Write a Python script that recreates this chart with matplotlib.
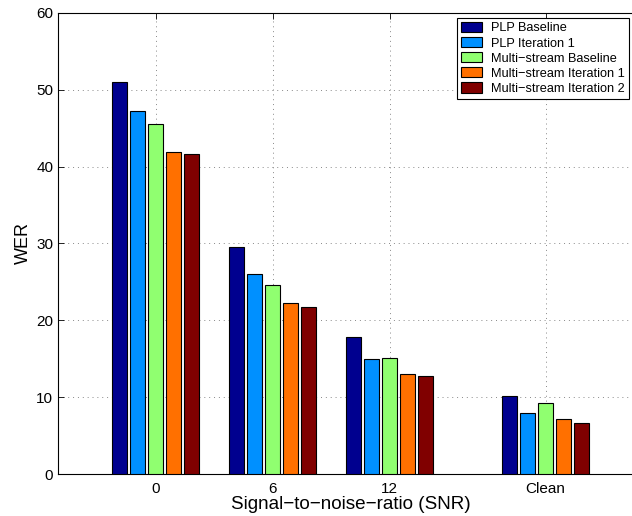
import matplotlib
matplotlib.use("Agg")
import matplotlib.pyplot as plt
import numpy as np

plt.rcParams['font.family'] = ['Liberation Sans', 'DejaVu Sans']

snr_positions = [0, 6, 12, 20]
tick_labels = ["0", "6", "12", "Clean"]
series_names = ["PLP Baseline", "PLP Iteration 1", "Multi\u2212stream Baseline",
                "Multi\u2212stream Iteration 1", "Multi\u2212stream Iteration 2"]
plp_baseline = [51.0, 29.6, 17.8, 10.1]
plp_iter1 = [47.2, 26.0, 15.0, 7.9]
ms_baseline = [45.5, 24.6, 15.1, 9.2]
ms_iter1 = [41.9, 22.2, 13.0, 7.2]
ms_iter2 = [41.7, 21.8, 12.7, 6.6]
colors = ["#00008F", "#0090FF", "#90FF70", "#FF7000", "#800000"]

series = [plp_baseline, plp_iter1, ms_baseline, ms_iter1, ms_iter2]

fig = plt.figure(figsize=(6.32, 5.16), dpi=100)
ax = fig.add_axes([58/632, 42/516, 585/632, 461/516])

x = np.array(snr_positions, dtype=float)
n = len(series)
slot = (n / (n + 1.5)) * 6 / n
width = 0.8 * slot
handles = []
for i, (vals, c, name) in enumerate(zip(series, colors, series_names)):
    h = ax.bar(x + (i - (n - 1) / 2) * slot, vals, width=width, color=c,
               edgecolor='black', linewidth=0.8, label=name, zorder=3)
    handles.append(h)

ax.set_xlim(-5, 25)
ax.set_ylim(0, 60)
ax.set_xticks(snr_positions)
ax.set_xticklabels(tick_labels)
ax.set_yticks(range(0, 61, 10))
ax.tick_params(direction='in', top=True, right=True, labelsize=11, length=4, width=0.6)
ax.tick_params(axis='x', pad=6)
ax.grid(True, linestyle=(0, (1, 4)), color='#888888', linewidth=0.7, zorder=0)
ax.set_axisbelow(True)
for s in ax.spines.values():
    s.set_linewidth(0.8)

ax.set_ylabel("WER", fontsize=13, labelpad=3)
ax.set_xlabel("Signal\u2212to\u2212noise\u2212ratio (SNR)", fontsize=13.6, labelpad=0)

leg = ax.legend(handles=handles, loc='upper right',
                bbox_to_anchor=(629/632, 1 - 18/516), bbox_transform=fig.transFigure,
                fontsize=9.2, fancybox=False, framealpha=1, edgecolor='black',
                borderaxespad=0, labelspacing=0.2, handlelength=1.7, handleheight=0.86,
                handletextpad=0.7, borderpad=0.3)
leg.get_frame().set_linewidth(0.8)

fig.savefig("out.png", dpi=100)
